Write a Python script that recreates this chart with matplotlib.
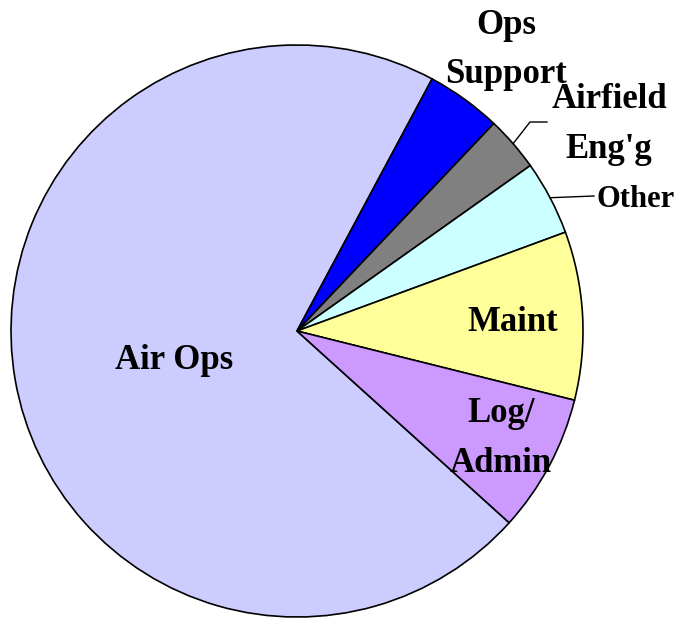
import numpy as np
import matplotlib
matplotlib.use("Agg")
import matplotlib.pyplot as plt

# ---- data ----
categories = ["Air Ops", "Ops\nSupport", "Airfield\nEng'g", "Other", "Maint", "Log/\nAdmin"]
shares = [71.1, 4.25, 3.1, 4.2, 9.5, 7.8]
colors = ["#CCCCFF", "#0000FF", "#808080", "#CCFFFF", "#FFFF99", "#CC99FF"]

W, H = 681, 619
CX, CY, R = 297, 331, 286  # pixel centre and radius of the pie

fig = plt.figure(figsize=(W / 100, H / 100), dpi=100)
fig.patch.set_facecolor("white")
ax = fig.add_axes([(CX - R) / W, (H - CY - R) / H, 2 * R / W, 2 * R / H])

wedges, _ = ax.pie(shares, colors=colors, startangle=317.9, counterclock=False,
                   radius=1.0,
                   wedgeprops=dict(edgecolor="black", linewidth=1.2))
for w in wedges:
    w.set_clip_on(False)
ax.set_xlim(-1, 1)
ax.set_ylim(-1, 1)
ax.set_aspect("equal")
ax.axis("off")


def d(px, py):
    return (px - CX) / R, (CY - py) / R


font = dict(family="Liberation Serif", fontweight="bold", color="black")

# label placements (pixel anchor of last-line baseline)
label_pos = {
    0: (174, 369, "center", 25),
    1: (506, 83, "center", 25),
    2: (609, 158, "center", 25),
    3: (597, 207, "left", 22),
    4: (513, 331, "center", 25),
    5: (501, 472, "center", 25),
}
for i, (px, py, ha, fs) in label_pos.items():
    x, y = d(px, py)
    ax.text(x, y, categories[i], ha=ha, va="baseline", multialignment="center",
            fontsize=fs, linespacing=1.66, clip_on=False, **font)

# leader lines for small slices
def mid_angle(w):
    return np.deg2rad((w.theta1 + w.theta2) / 2)

a = mid_angle(wedges[2])
x0, y0 = np.cos(a), np.sin(a)
x1, y1 = d(530, 122)
x2, y2 = d(547, 122)
ax.plot([x0, x1, x2], [y0, y1, y2], color="black", lw=1.0, clip_on=False)

a = mid_angle(wedges[3])
x0, y0 = np.cos(a), np.sin(a)
x1, y1 = d(594, 196)
ax.plot([x0, x1], [y0, y1], color="black", lw=1.0, clip_on=False)

fig.savefig("out.png", dpi=100, facecolor="white")
